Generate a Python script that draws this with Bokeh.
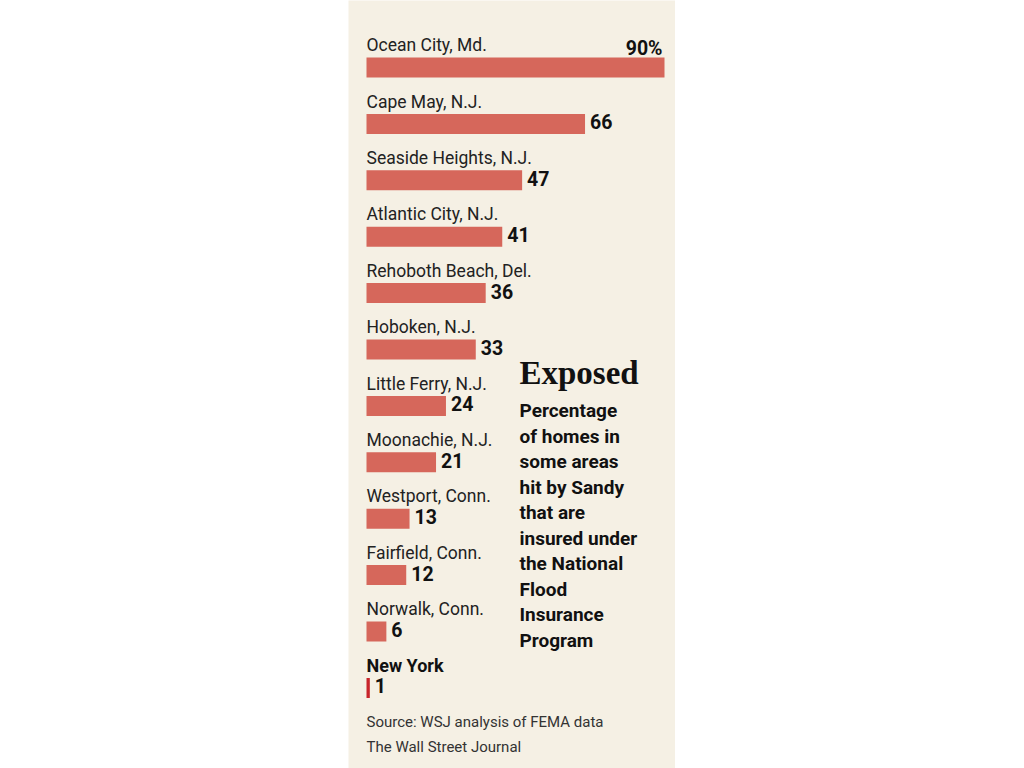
from bokeh.plotting import figure
from bokeh.models import Range1d, Spacer
from bokeh.layouts import row
from bokeh.core.properties import value
from bokeh.embed import file_html
from bokeh.resources import INLINE

# ---- data ----
cities = ["Ocean City, Md.", "Cape May, N.J.", "Seaside Heights, N.J.", "Atlantic City, N.J.",
          "Rehoboth Beach, Del.", "Hoboken, N.J.", "Little Ferry, N.J.", "Moonachie, N.J.",
          "Westport, Conn.", "Fairfield, Conn.", "Norwalk, Conn.", "New York"]
pct = [90, 66, 47, 41, 36, 33, 24, 21, 13, 12, 6, 1]
title_text = "Exposed"
subtitle_lines = ["Percentage", "of homes in", "some areas", "hit by Sandy", "that are",
                  "insured under", "the National", "Flood", "Insurance", "Program"]
source_lines = ["Source: WSJ analysis of FEMA data", "The Wall Street Journal"]

# ---- layout constants (pixels inside the figure) ----
W, H = 327, 768
X0_PX = 18.0
PX_PER_UNIT = 298.0 / 90.0
ROW0_PX = 67.0
ROW_PX = 56.4

def xd(px):
    return (px - X0_PX) / PX_PER_UNIT

def yd(py):
    return (py - ROW0_PX) / ROW_PX

def base_shift(fs):
    # baseline correction for rendered text (pixels -> rows)
    return -0.36 * fs / ROW_PX

BG = "#f5f0e4"
BAR = "#d6675b"
BAR_NY = "#c8252b"
TXT = "#222222"

p = figure(width=W, height=H, x_range=Range1d(xd(0), xd(W)), y_range=Range1d(yd(H), yd(0)),
           x_axis_type=None, y_axis_type=None, toolbar_location=None, output_backend="svg",
           min_border=0, min_border_left=0, min_border_right=0, min_border_top=0, min_border_bottom=0,
           background_fill_color=BG, border_fill_color=BG, outline_line_color=None)
p.grid.visible = False

n = len(cities)
rows_idx = list(range(n))
colors = [BAR] * (n - 1) + [BAR_NY]
p.hbar(y=rows_idx, left=0, right=pct, height=20 / ROW_PX, fill_color=colors, line_color=None)

# city labels
LAB_FS = 17.5
lab_dy = -16 / ROW_PX + base_shift(LAB_FS)
p.text(x=[0] * (n - 1), y=[i + lab_dy for i in rows_idx[:-1]], text=cities[:-1],
       text_font=value("Roboto"), text_font_size=f"{LAB_FS}px", text_color=TXT,
       text_baseline="alphabetic", text_align="left")
p.text(x=[0], y=[rows_idx[-1] + -16 / ROW_PX + base_shift(18)], text=[cities[-1]],
       text_font=value("Roboto"), text_font_style="bold", text_font_size="18px", text_color="#111111",
       text_baseline="alphabetic", text_align="left")

# value labels
VAL_FS = 19.5
val_dx = 5 / PX_PER_UNIT
val_dy = 5 / ROW_PX + base_shift(VAL_FS)
p.text(x=[v + val_dx for v in pct[1:]], y=[i + val_dy for i in rows_idx[1:]],
       text=[str(v) for v in pct[1:]],
       text_font=value("Roboto"), text_font_style="bold", text_font_size=f"{VAL_FS}px",
       text_color="#111111", text_baseline="alphabetic", text_align="left")
p.text(x=[pct[0] - 2 / PX_PER_UNIT], y=[rows_idx[0] - 12 / ROW_PX + base_shift(VAL_FS)],
       text=[f"{pct[0]}%"],
       text_font=value("Roboto"), text_font_style="bold", text_font_size=f"{VAL_FS}px",
       text_color="#111111", text_baseline="alphabetic", text_align="right")

# title block
p.text(x=[xd(171)], y=[yd(384) + base_shift(33)], text=[title_text],
       text_font=value("Liberation Serif"), text_font_style="bold", text_font_size="33px",
       text_color="#111111", text_baseline="alphabetic", text_align="left")
p.text(x=[xd(171)] * len(subtitle_lines),
       y=[yd(417 + 25.5 * k) + base_shift(19) for k in range(len(subtitle_lines))],
       text=subtitle_lines,
       text_font=value("Roboto"), text_font_style="bold", text_font_size="19px",
       text_color="#111111", text_baseline="alphabetic", text_align="left")

# source
p.text(x=[xd(18)] * 2, y=[yd(727) + base_shift(15), yd(752) + base_shift(15)], text=source_lines,
       text_font=value("Roboto"), text_font_size="15px", text_color="#333333",
       text_baseline="alphabetic", text_align="left")

layout = row(Spacer(width=348, height=H), p)
open("out.html", "w").write(file_html(layout, INLINE))
